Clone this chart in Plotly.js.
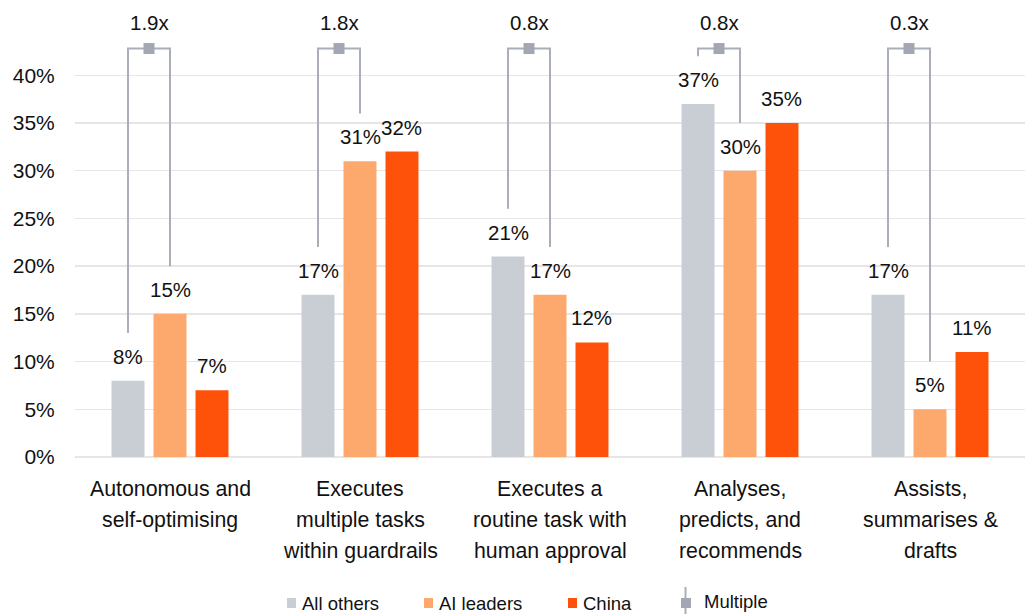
<!DOCTYPE html>
<html>
<head>
<meta charset="utf-8">
<script src="https://cdn.plot.ly/plotly-3.0.1.min.js"></script>
<style>html,body{margin:0;padding:0;background:#fff;}#chart{width:1031px;height:614px;}</style>
</head>
<body>
<div id="chart"></div>
<script>
// ---- data ----
const categoryLines = [
  ["Autonomous and", "self-optimising"],
  ["Executes", "multiple tasks", "within guardrails"],
  ["Executes a", "routine task with", "human approval"],
  ["Analyses,", "predicts, and", "recommends"],
  ["Assists,", "summarises &", "drafts"]
];
const allOthers = [0.08, 0.17, 0.21, 0.37, 0.17];
const aiLeaders = [0.15, 0.31, 0.17, 0.30, 0.05];
const china     = [0.07, 0.32, 0.12, 0.35, 0.11];
const multiples = [1.9, 1.8, 0.8, 0.8, 0.3];
const seriesNames = ["All others", "AI leaders", "China"];
const yTickVals = [0, 0.05, 0.10, 0.15, 0.20, 0.25, 0.30, 0.35, 0.40];
const yTickText = ["0%", "5%", "10%", "15%", "20%", "25%", "30%", "35%", "40%"];

// ---- style ----
const colors = ["#C9CDD4", "#FDA96D", "#FE520A"];
const bracketColor = "#A9AEB8";
const markerColor = "#A2A7B2";
const FONT = "Liberation Sans, Arial, Helvetica, sans-serif";
const TXT = "#111111";
const barW = 0.1736;
const step = 0.221;
const offsets = [-step, 0, step];
const bracketTop = 0.428;
const bracketGap = 0.05;

const M = {l: 75, r: 6, t: 18, b: 157};
const W = 1031, H = 614;
const PW = W - M.l - M.r, PH = H - M.t - M.b;
const px = v => (v - M.l) / PW;
const py = v => (H - M.b - v) / PH;

const xs = categoryLines.map((_, i) => i);
const series = [allOthers, aiLeaders, china];

const traces = [];
series.forEach((vals, s) => {
  traces.push({
    type: "bar", name: seriesNames[s], x: xs, y: vals,
    width: barW, offset: offsets[s] - barW / 2,
    marker: {color: colors[s], line: {width: 0}},
    showlegend: false, hoverinfo: "skip"
  });
});

// brackets (All others vs AI leaders)
xs.forEach(i => {
  traces.push({
    type: "scatter", mode: "lines",
    x: [i + offsets[0], i + offsets[0], i + offsets[1], i + offsets[1]],
    y: [Math.min(allOthers[i] + bracketGap, bracketTop), bracketTop, bracketTop, Math.min(aiLeaders[i] + bracketGap, bracketTop)],
    line: {color: bracketColor, width: 2},
    showlegend: false, hoverinfo: "skip", cliponaxis: false
  });
});
traces.push({
  type: "scatter", mode: "markers", name: "Multiple",
  x: xs.map(i => i + (offsets[0] + offsets[1]) / 2),
  y: xs.map(() => bracketTop),
  marker: {symbol: "square", size: 11, color: markerColor},
  showlegend: false, hoverinfo: "skip", cliponaxis: false
});

const annotations = [];
// data labels
series.forEach((vals, s) => {
  vals.forEach((v, i) => {
    annotations.push({
      x: i + offsets[s], y: v, xref: "x", yref: "y",
      text: Math.round(v * 100) + "%", showarrow: false,
      yanchor: "bottom", yshift: 11,
      font: {family: FONT, size: 20.5, color: TXT}
    });
  });
});
// multiple labels
multiples.forEach((m, i) => {
  annotations.push({
    x: i + (offsets[0] + offsets[1]) / 2, y: bracketTop, xref: "x", yref: "y",
    text: m.toFixed(1) + "x", showarrow: false,
    yanchor: "bottom", yshift: 13,
    font: {family: FONT, size: 20.5, color: TXT}
  });
});
// category labels
categoryLines.forEach((lines, i) => {
  lines.forEach((ln, k) => {
    annotations.push({
      x: i, y: 0, xref: "x", yref: "paper",
      text: ln, showarrow: false, yanchor: "middle",
      yshift: -(31 + 31 * k) - 1,
      font: {family: FONT, size: 21.3, color: TXT}
    });
  });
});

// manual legend
const shapes = [];
const legSquares = [[287, 296], [424, 433], [568, 577]];
const legText = [300, 437, 581];
legSquares.forEach((sq, s) => {
  shapes.push({type: "rect", xref: "paper", yref: "paper",
    x0: px(sq[0]), x1: px(sq[1]), y0: py(608), y1: py(598),
    fillcolor: colors[s], line: {width: 0}});
  annotations.push({x: px(legText[s]), y: py(603), xref: "paper", yref: "paper",
    text: seriesNames[s], showarrow: false, xanchor: "left", yanchor: "middle",
    font: {family: FONT, size: 18.5, color: TXT}});
});
shapes.push({type: "line", xref: "paper", yref: "paper",
  x0: px(685.5), x1: px(685.5), y0: py(587), y1: py(614),
  line: {color: bracketColor, width: 2}});
shapes.push({type: "rect", xref: "paper", yref: "paper",
  x0: px(681), x1: px(691), y0: py(608), y1: py(598),
  fillcolor: markerColor, line: {width: 0}});
annotations.push({x: px(702), y: py(601), xref: "paper", yref: "paper",
  text: "Multiple", showarrow: false, xanchor: "left", yanchor: "middle",
  font: {family: FONT, size: 18.5, color: TXT}});

const layout = {
  width: W, height: H, margin: M,
  paper_bgcolor: "#fff", plot_bgcolor: "#fff",
  barmode: "overlay", showlegend: false,
  font: {family: FONT, color: TXT},
  xaxis: {range: [-0.5, 4.5], showticklabels: false, showgrid: false, zeroline: false,
          showline: false, ticks: "", fixedrange: true},
  yaxis: {range: [0, 0.46], tickvals: yTickVals, ticktext: yTickText,
          showgrid: true, gridcolor: "#E6E6E6", gridwidth: 1.5,
          zeroline: true, zerolinecolor: "#E6E6E6", zerolinewidth: 1.5,
          showline: false, ticks: "outside", ticklen: 15, tickcolor: "rgba(0,0,0,0)",
          tickfont: {family: FONT, size: 21, color: TXT}, fixedrange: true},
  annotations: annotations, shapes: shapes
};

Plotly.newPlot("chart", traces, layout, {staticPlot: true, displayModeBar: false});
</script>
</body>
</html>
